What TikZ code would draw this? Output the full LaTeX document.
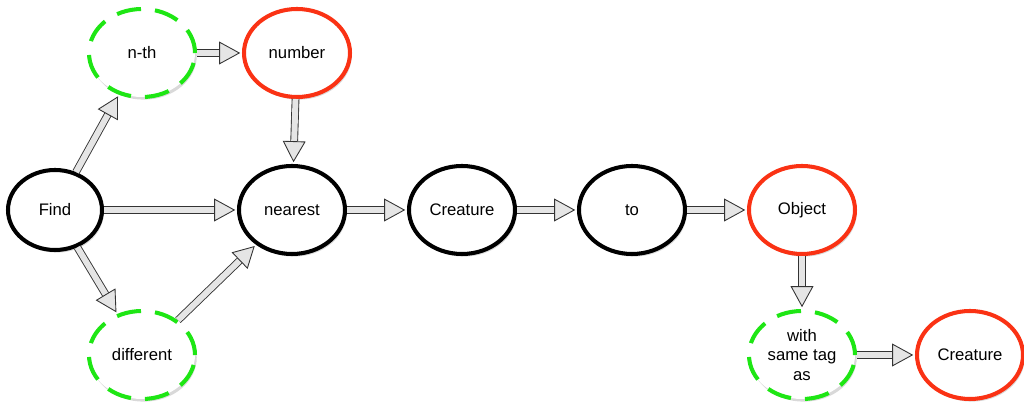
\documentclass[tikz,border=0pt]{standalone}
\usepackage{fontspec}
\setmainfont{Liberation Sans}
\usetikzlibrary{arrows.meta,shapes.geometric,shadows}
\definecolor{wordred}{RGB}{250,50,20}
\definecolor{wordgreen}{RGB}{30,230,20}
\begin{document}
\begin{tikzpicture}[
	   word/.style={ellipse,draw=black,fill=white,line width=2.3pt,minimum width=2.12cm,minimum height=1.76cm,inner sep=0pt,align=center,font=\fontsize{9.5}{11}\selectfont,drop shadow={opacity=0.3,shadow xshift=1pt,shadow yshift=-1.5pt}},
	   keyword/.style={word,draw=wordred},
	   optword/.style={word,draw=wordgreen,dash pattern=on 14pt off 8pt},
	   flow/.style={draw=gray!40!black,double=gray!20,double distance=3.4pt,line width=0.5pt,-{Triangle[length=12pt,width=13pt,fill=gray!20,color=gray!40!black,line width=0.5pt]},shorten >=1pt}
	]
	   \useasboundingbox (0,0) rectangle (20.48,8.12);
	   \node [word,minimum width=1.88cm,minimum height=1.6cm] (find) at (1.10,3.92) {Find};
	   \node [optword] (nth) at (2.84,7.06) {n-th};
	   \node [keyword] (number) at (5.94,7.06) {number};
	   \node [optword] (different) at (2.84,1.02) {different};
	   \node [word] (nearest) at (5.84,3.92) {nearest};
	   \node [word] (creature) at (9.24,3.92) {Creature};
	   \node [word] (to) at (12.64,3.92) {to};
	   \node [keyword] (object) at (16.04,3.92) {Object};
	   \node [optword] (sametag) at (16.04,1.02) {with\\same tag\\as};
	   \node [keyword] (creature2) at (19.40,1.02) {Creature};
	   \draw [flow] (find) -- (nth);
	   \draw [flow] (find) -- (nearest);
	   \draw [flow] (find) -- (different);
	   \draw [flow] (different) -- (nearest);
	   \draw [flow] (nth) -- (number);
	   \draw [flow] (number) -- (nearest);
	   \draw [flow] (nearest) -- (creature);
	   \draw [flow] (creature) -- (to);
	   \draw [flow] (to) -- (object);
	   \draw [flow] (object) -- (sametag);
	   \draw [flow] (sametag) -- (creature2);
\end{tikzpicture}
\end{document}
